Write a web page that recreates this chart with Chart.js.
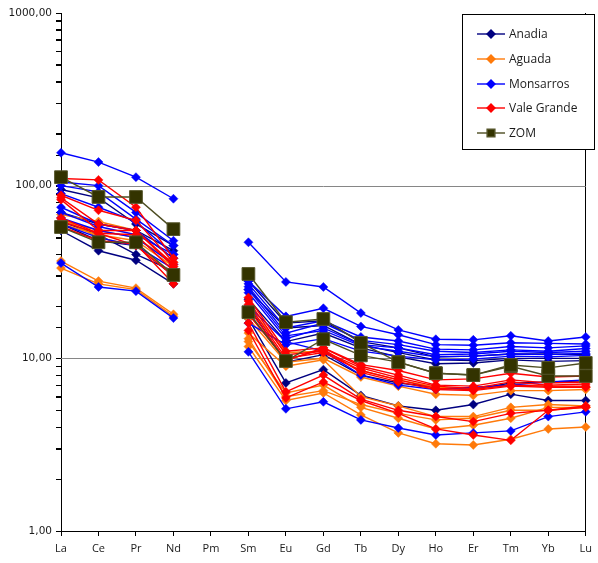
<!DOCTYPE html>
<html>
<head>
<meta charset="utf-8">
<script src="https://cdn.jsdelivr.net/npm/chart.js@4.4.1/dist/chart.umd.min.js"></script>
<style>
  html, body { margin: 0; padding: 0; background: #fff; }
  #wrap { position: relative; width: 598px; height: 563px; }
</style>
</head>
<body>
<div id="wrap"><canvas id="ree" width="598" height="563"></canvas></div>
<script>
// ── Data (chondrite-normalised REE) ─────────────────────────────────────────
const categories = ['La','Ce','Pr','Nd','Pm','Sm','Eu','Gd','Tb','Dy','Ho','Er','Tm','Yb','Lu'];
const yTickLabels = { 1: '1,00', 10: '10,00', 100: '100,00', 1000: '1000,00' };
// major + minor tick positions on the log axis
const yTicks = [1,2,3,4,5,6,7,8,9,10,20,30,40,50,60,70,80,90,100,200,300,400,500,600,700,800,900,1000];
const yGridLines = [10, 100];

const zom = [
  [112, 86, 86, 56, null, 30.8, 16.2, 16.9, 12.3, 9.5, 8.2, 8.0, 9.15, 8.8, 9.4],
  [57.6, 47, 47, 30.4, null, 18.5, 9.65, 12.9, 10.4, 9.5, 8.2, 8.0, 9.0, 7.9, 7.9],
];
const anadia = [
  [95, 85, 60, 45, null, 28, 16, 16.5, 12.5, 11.5, 10.2, 10.3, 10.6, 10.6, 10.5],
  [70, 60, 55, 42, null, 25, 15, 15.5, 12.0, 10.8, 9.8, 9.7, 10.0, 10.0, 10.0],
  [62, 52, 40, 32, null, 22, 12.5, 14, 11.5, 10.2, 9.3, 9.4, 9.8, 9.6, 9.7],
  [55, 42, 37, 27, null, 17, 7.2, 8.6, 6.1, 5.3, 5.0, 5.4, 6.2, 5.7, 5.7],
  [60, 48, 45, 30, null, 20, 9.5, 10.5, 8.0, 7.2, 6.8, 6.6, 7.2, 7.3, 7.4],
];
const aguada = [
  [68, 62, 55, 38, null, 20, 10.8, 11, 8.5, 7.5, 6.8, 6.6, 7.0, 6.9, 6.8],
  [63, 55, 50, 36, null, 17, 9.5, 10, 7.8, 6.9, 6.2, 6.1, 6.5, 6.5, 6.6],
  [60, 52, 48, 34, null, 14, 9.0, 9.8, 6.0, 5.3, 4.6, 4.6, 5.2, 5.4, 5.3],
  [36.6, 28, 25.5, 18, null, 12.5, 6.3, 7.0, 5.2, 4.5, 3.9, 4.1, 4.5, 5.2, 5.2],
  [33.3, 27, 25, 17.5, null, 11.7, 5.7, 6.3, 4.7, 3.7, 3.2, 3.15, 3.4, 3.9, 4.0],
  [65, 50, 45, 31, null, 13, 6.0, 6.5, 5.4, 4.8, 4.4, 4.5, 5.0, 5.0, 5.2],
];
const monsarros = [
  [155, 137, 112, 84, null, 47, 27.7, 25.9, 18.3, 14.6, 12.9, 12.8, 13.5, 12.6, 13.3],
  [105, 100, 70, 48, null, 28, 17.5, 19.5, 15.3, 13.7, 12, 11.9, 12.3, 12.2, 12.1],
  [100, 92, 64, 45, null, 27, 15, 16.5, 13.3, 12.6, 11.3, 11.2, 11.7, 11.5, 11.8],
  [90, 75, 62, 40, null, 26, 14, 16, 12.7, 12.0, 11.0, 10.8, 11.2, 11.0, 11.4],
  [75, 60, 55, 38, null, 24, 13, 15, 12, 11.5, 10.5, 10.6, 11, 10.8, 11],
  [65, 55, 50, 35, null, 25, 13.5, 14.5, 11.8, 11.0, 10.2, 10.3, 10.6, 10.5, 10.7],
  [60, 50, 45, 33, null, 16, 12, 13, 11, 10.3, 9.8, 9.9, 10.3, 10.2, 10.4],
  [70, 58, 52, 40, null, 20, 12.5, 11, 8.0, 7.0, 6.6, 6.8, 7.0, 7.3, 7.5],
  [35.6, 25.9, 24.5, 17.1, null, 10.9, 5.1, 5.6, 4.4, 3.95, 3.6, 3.7, 3.8, 4.6, 4.9],
];
const valeGrande = [
  [110, 108, 75, 38, null, 22.5, 11, 11.5, 9.0, 8.0, 7.0, 6.9, 7.5, 7.2, 7.3],
  [88, 72, 63, 36, null, 21.5, 10.5, 11, 8.8, 7.7, 6.9, 6.7, 7.3, 7.0, 7.1],
  [83, 55, 55, 34, null, 20.5, 10, 10.8, 8.5, 7.5, 6.7, 6.6, 7.0, 6.9, 6.9],
  [65, 53, 52, 32, null, 18, 9.8, 11.3, 8.3, 7.3, 6.6, 6.5, 6.9, 6.8, 6.8],
  [85, 60, 55, 35, null, 19.5, 9.7, 11.5, 9.2, 8.5, 7.5, 7.6, 8.2, 7.8, 7.9],
  [62, 53, 45, 30, null, 16, 6.4, 8.0, 5.8, 5.0, 4.6, 4.3, 4.8, 5.0, 5.3],
  [58, 48, 46, 27, null, 14.5, 5.9, 7.3, 5.7, 4.8, 3.9, 3.6, 3.35, 5.0, 5.2],
];

// legend order as in the reference
const groups = [
  { name: 'Anadia',      rows: anadia,     color: '#000080', fill: '#000080', shape: 'rectRot', r: 4.5 },
  { name: 'Aguada',      rows: aguada,     color: '#FF7A0A', fill: '#FF7A0A', shape: 'rectRot', r: 4.5 },
  { name: 'Monsarros',   rows: monsarros,  color: '#0000FF', fill: '#0000FF', shape: 'rectRot', r: 4.5 },
  { name: 'Vale Grande', rows: valeGrande, color: '#FF0000', fill: '#FF0000', shape: 'rectRot', r: 4.5 },
  { name: 'ZOM',         rows: zom,        color: '#4D4D22', fill: '#333300', shape: 'rect',    r: 9 },
];

// ── Build datasets (ZOM first so it is painted on top) ──────────────────────
const datasets = [];
[...groups].reverse().forEach(g => {
  g.rows.forEach(row => {
    datasets.push({
      label: g.name,
      data: row,
      borderColor: g.color,
      backgroundColor: g.fill,
      borderWidth: 1.4,
      pointStyle: g.shape,
      pointRadius: g.r,
      pointBorderWidth: g.name === 'ZOM' ? 1 : 0.5,
      pointBorderColor: g.name === 'ZOM' ? '#55552A' : g.color,
      pointBackgroundColor: g.fill,
      spanGaps: false,
      tension: 0,
      clip: false,
    });
  });
});

// ── Grey decade gridlines + minor tick marks on the log axis ───────────────
const logAxisDecor = {
  id: 'logAxisDecor',
  beforeDatasetsDraw(chart) {
    const { ctx, chartArea, scales } = chart;
    ctx.save();
    ctx.strokeStyle = '#868686';
    ctx.lineWidth = 1;
    yGridLines.forEach(v => {
      const y = Math.round(scales.y.getPixelForValue(v)) + 0.5;
      ctx.beginPath();
      ctx.moveTo(chartArea.left, y);
      ctx.lineTo(chartArea.right, y);
      ctx.stroke();
    });
    ctx.strokeStyle = '#000';
    yTicks.forEach(v => {
      const y = Math.round(scales.y.getPixelForValue(v)) + 0.5;
      ctx.beginPath();
      ctx.moveTo(chartArea.left - 5, y);
      ctx.lineTo(chartArea.left, y);
      ctx.stroke();
    });
    ctx.restore();
  }
};

// ── Legend box drawn inside the plot, top right ────────────────────────────
const boxLegend = {
  id: 'boxLegend',
  afterDraw(chart) {
    const ctx = chart.ctx;
    const x0 = 462, y0 = 14, w = 132, h = 135;
    ctx.save();
    ctx.fillStyle = '#fff';
    ctx.fillRect(x0, y0, w, h);
    ctx.strokeStyle = '#000';
    ctx.lineWidth = 1;
    ctx.strokeRect(x0 + 0.5, y0 + 0.5, w, h);
    ctx.font = '12px "Open Sans", sans-serif';
    ctx.textBaseline = 'middle';
    const rowsY = [34, 59, 84, 108, 133];
    groups.forEach((g, i) => {
      const y = rowsY[i];
      ctx.strokeStyle = g.color;
      ctx.lineWidth = 1.4;
      ctx.beginPath();
      ctx.moveTo(477, y);
      ctx.lineTo(505, y);
      ctx.stroke();
      ctx.fillStyle = g.fill;
      ctx.strokeStyle = g.name === 'ZOM' ? '#55552A' : g.color;
      Chart.helpers.drawPoint(ctx, { pointStyle: g.shape, radius: g.name === 'ZOM' ? 5.5 : 4, borderWidth: 0.5 }, 491, y);
      ctx.fillStyle = '#1a1a1a';
      ctx.fillText(g.name, 509, y + 1);
    });
    ctx.restore();
  }
};

new Chart(document.getElementById('ree'), {
  type: 'line',
  data: { labels: categories, datasets },
  plugins: [logAxisDecor, boxLegend],
  options: {
    responsive: false,
    animation: false,
    layout: { padding: { top: 13, right: 4, left: 0, bottom: 0 } },
    plugins: {
      legend: { display: false },
      tooltip: { enabled: false },
    },
    scales: {
      x: {
        type: 'category',
        offset: false,
        border: { color: '#000', width: 1 },
        grid: {
          color: c => (c.index === categories.length - 1 ? '#000' : 'transparent'),
          tickColor: '#000',
          tickLength: 5,
        },
        ticks: {
          color: '#1a1a1a',
          font: { family: '"Open Sans", sans-serif', size: 11 },
          padding: 6,
          maxRotation: 0,
          autoSkip: false,
        },
        afterFit: s => { s.height = 32; },
      },
      y: {
        type: 'logarithmic',
        min: 1,
        max: 1000,
        border: { color: '#000', width: 1 },
        grid: {
          drawOnChartArea: false,
          color: '#000',
          tickColor: '#000',
          lineWidth: 1,
          tickLength: 5,
        },
        ticks: {
          color: '#1a1a1a',
          font: { family: '"DejaVu Sans", sans-serif', size: 10.5 },
          padding: 4,
          autoSkip: false,
          callback: v => yTickLabels[v] || '',
        },
        afterFit: s => { s.width = 61; },
      },
    },
  },
});
</script>
</body>
</html>
